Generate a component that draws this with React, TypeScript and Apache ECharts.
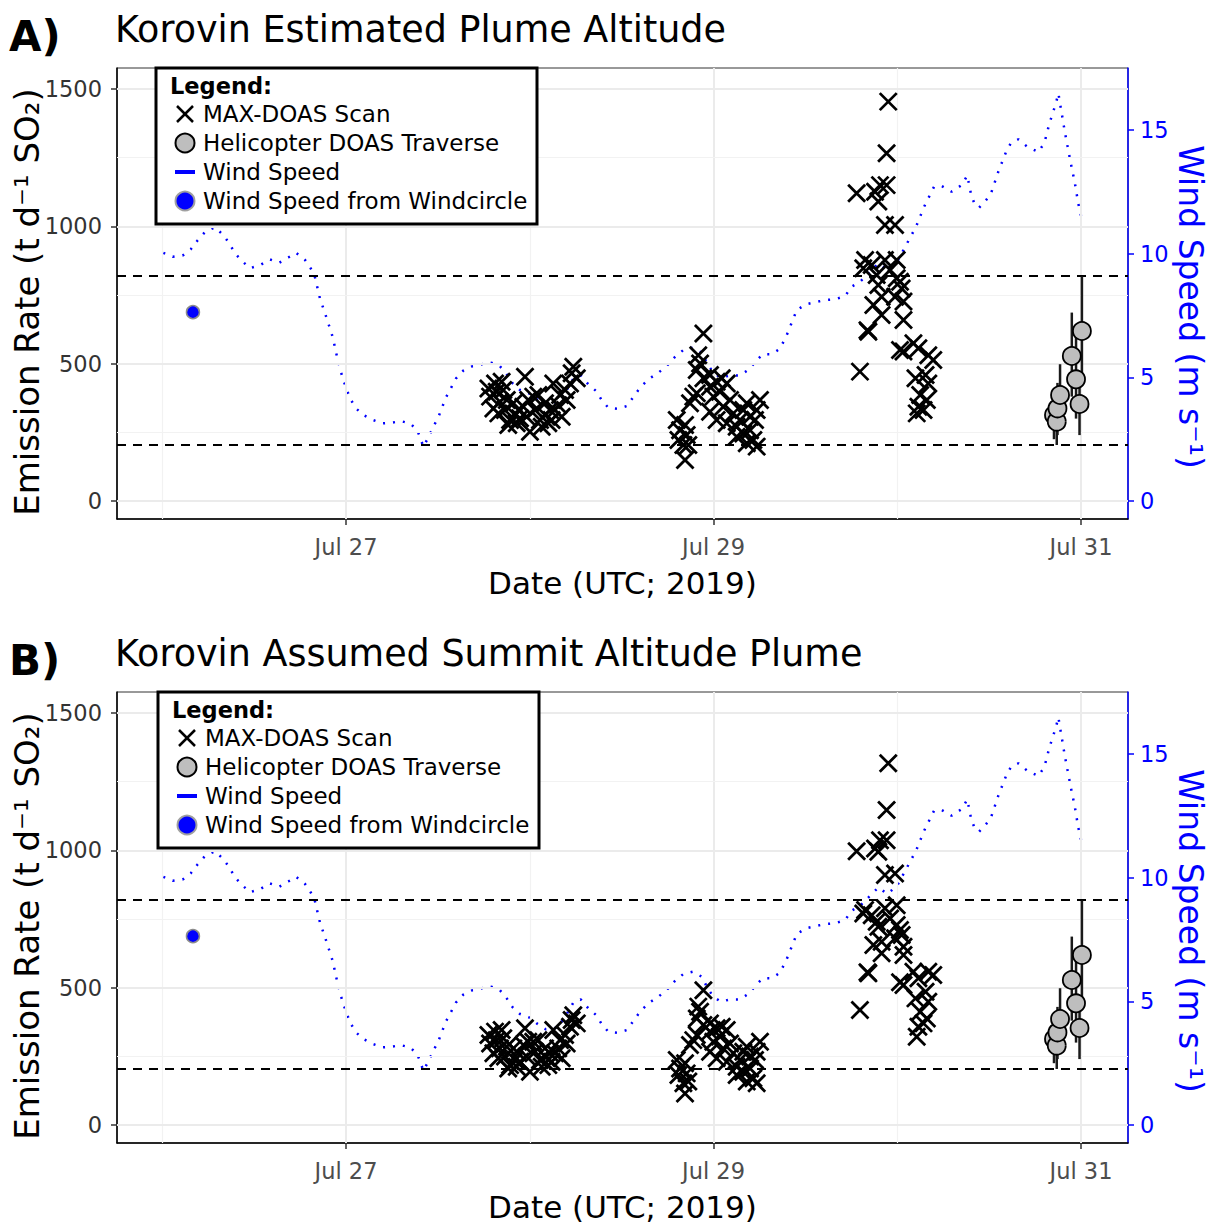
import React, { useEffect, useRef } from "react";
import * as echarts from "echarts";

// ---------- data ----------
// Time is expressed as fractional day of July 2019 (UTC), e.g. 27.5 = Jul 27 12:00.
const dayTicks = [27, 29, 31];
const dayMinorLines = [26, 28, 30];
const rateTicks = [0, 500, 1000, 1500];
const rateMinorLines = [250, 750, 1250];
const windTicks = [0, 5, 10, 15];
const dashedRates = [205, 819];

const windTime = [
  26.006, 26.057, 26.111, 26.155, 26.193, 26.234, 26.287, 26.332, 26.365, 26.396,
  26.438, 26.478, 26.532, 26.586, 26.637, 26.686, 26.728, 26.777, 26.808, 26.831,
  26.858, 26.895, 26.928, 26.953, 26.982, 27.022, 27.054, 27.094, 27.145, 27.2,
  27.25, 27.299, 27.348, 27.388, 27.421, 27.448, 27.475, 27.502, 27.544, 27.599,
  27.638, 27.689, 27.744, 27.793, 27.838, 27.875, 27.907, 27.947, 28.001, 28.038,
  28.088, 28.137, 28.183, 28.237, 28.277, 28.319, 28.361, 28.392, 28.428, 28.477,
  28.528, 28.564, 28.604, 28.651, 28.7, 28.745, 28.785, 28.836, 28.887, 28.936,
  28.97, 29.0, 29.039, 29.09, 29.144, 29.195, 29.231, 29.268, 29.317, 29.362,
  29.398, 29.453, 29.5, 29.56, 29.607, 29.661, 29.716, 29.752, 29.797, 29.861,
  29.897, 29.945, 29.997, 30.048, 30.102, 30.146, 30.2, 30.242, 30.296, 30.351,
  30.381, 30.4, 30.418, 30.445, 30.483, 30.508, 30.55, 30.592, 30.619, 30.659,
  30.708, 30.768, 30.801, 30.828, 30.863, 30.877, 30.89, 30.913, 30.944, 30.967,
  30.985, 31.009,
];
const windSpeed = [
  10.04, 9.88, 9.93, 10.18, 10.55, 10.89, 11.07, 10.76, 10.42, 10.02,
  9.68, 9.42, 9.54, 9.77, 9.64, 9.85, 10.04, 9.75, 9.41, 9.05,
  8.2, 7.39, 6.62, 5.77, 4.96, 4.15, 3.75, 3.48, 3.28, 3.14,
  3.17, 3.23, 3.14, 2.87, 2.2, 2.57, 3.0, 3.38, 4.19, 4.96,
  5.27, 5.46, 5.54, 5.59, 5.45, 5.12, 4.76, 4.49, 4.34, 4.11,
  3.87, 3.91, 4.25, 4.95, 5.08, 4.72, 4.45, 4.08, 3.77, 3.73,
  3.84, 4.21, 4.62, 4.95, 5.19, 5.46, 5.79, 6.11, 6.2, 6.0,
  5.5, 5.19, 4.99, 5.08, 5.08, 5.33, 5.66, 5.94, 5.94, 6.16,
  6.7, 7.72, 7.95, 8.05, 8.13, 8.16, 8.29, 8.67, 8.86, 9.34,
  9.61, 9.35, 9.65, 10.35, 11.09, 11.9, 12.71, 12.74, 12.51, 12.78,
  13.17, 12.47, 12.06, 11.86, 12.17, 12.39, 13.32, 14.12, 14.49, 14.63,
  14.33, 14.12, 14.49, 15.27, 16.08, 16.49, 15.9, 14.89, 13.68, 12.85,
  12.04, 11.25,
];

const windcircleTime = [26.167];
const windcircleSpeed = [7.64];

// MAX-DOAS scan times, shared by both altitude assumptions
const scanTime = [
  // Jul 27-28
  27.775, 27.811, 27.847, 27.784, 27.82, 27.856, 27.802, 27.838, 27.875, 27.829,
  27.865, 27.893, 27.92, 27.883, 27.929, 27.947, 27.974, 27.965, 27.992, 28.019,
  28.047, 28.001, 27.983, 28.029, 28.056, 28.083, 28.065, 28.101, 28.119, 28.137,
  28.155, 28.128, 28.165, 28.192, 28.201, 28.219, 28.228, 28.237, 28.256, 28.174,
  28.11, 28.083, 27.911, 27.938,
  // Jul 28-29
  28.945, 28.917, 28.909, 28.927, 28.945, 28.981, 28.89, 28.872, 28.909, 28.981,
  29.017, 29.045, 29.072, 28.999, 29.035, 28.981, 29.017, 29.053, 29.09, 29.108,
  29.072, 29.126, 29.144, 29.162, 29.181, 29.126, 29.162, 29.199, 29.217, 29.181,
  29.226, 29.235, 29.253, 29.199, 29.235, 28.8, 28.818, 28.845, 28.809, 28.854,
  28.836, 28.845, 28.863,
  // Jul 29-30
  29.951, 29.942, 29.779, 29.879, 29.906, 29.942, 29.897, 29.933, 29.988, 29.825,
  29.861, 29.933, 29.997, 29.815, 29.888, 29.961, 29.997, 30.015, 29.897, 30.024,
  29.915, 29.988, 30.034, 29.87, 29.915, 30.034, 29.843, 29.838, 30.088, 30.034,
  30.015, 30.115, 30.169, 30.196, 29.797, 30.099, 30.154, 30.169, 30.125, 30.161,
  30.115, 30.143, 30.106,
];
// Emission rate (t/d SO2), estimated plume altitude
const scanRateEstimated = [
  410, 428, 434, 380, 398, 404, 337, 361, 368, 319,
  331, 295, 313, 277, 283, 301, 452, 343, 368, 380,
  386, 252, 307, 331, 295, 313, 270, 283, 295, 331,
  349, 428, 386, 404, 368, 428, 465, 489, 447, 307,
  331, 356, 356, 331,
  610, 531, 477, 501, 447, 459, 380, 356, 392, 416,
  434, 447, 428, 380, 398, 325, 295, 343, 368, 319,
  283, 270, 295, 331, 356, 234, 246, 258, 222, 210,
  295, 331, 368, 307, 198, 295, 258, 277, 222, 240,
  204, 149, 204,
  1454, 1266, 1120, 1126, 1150, 1150, 1090, 1005, 1005, 877,
  859, 877, 877, 847, 823, 841, 811, 798, 786, 774,
  744, 744, 726, 714, 677, 659, 616, 622, 574, 544,
  550, 556, 531, 513, 471, 447, 459, 428, 386, 368,
  343, 331, 319,
];
// Emission rate (t/d SO2), plume assumed at summit altitude
const scanRateSummit = [
  328, 340, 346, 297, 309, 316, 261, 279, 285, 243,
  249, 218, 237, 206, 212, 230, 352, 291, 303, 303,
  309, 194, 249, 267, 237, 249, 212, 218, 230, 261,
  279, 346, 309, 328, 297, 358, 382, 400, 370, 243,
  261, 279, 279, 261,
  491, 431, 388, 412, 364, 370, 309, 291, 328, 340,
  352, 358, 346, 303, 322, 267, 243, 279, 297, 261,
  230, 212, 237, 267, 285, 182, 194, 206, 170, 158,
  237, 267, 303, 249, 152, 237, 206, 225, 182, 188,
  152, 115, 158,
  1317, 1147, 997, 1007, 1037, 1037, 995, 910, 916, 783,
  764, 789, 800, 770, 740, 752, 728, 710, 722, 692,
  667, 680, 649, 655, 625, 619, 552, 556, 558, 510,
  520, 534, 558, 546, 419, 461, 485, 449, 412, 388,
  358, 370, 321,
];

// Helicopter DOAS traverses with their uncertainty range
const heliTime = [30.853, 30.868, 30.872, 30.886, 30.95, 30.973, 30.992, 31.005];
const heliRate = [313, 289, 337, 386, 528, 443, 353, 619];
const heliLow = [225, 204, 240, 270, 380, 300, 240, 420];
const heliHigh = [400, 370, 430, 498, 686, 600, 470, 817];

const panelTitles = ["Korovin Estimated Plume Altitude", "Korovin Assumed Summit Altitude Plume"];
const panelLetters = ["A)", "B)"];
const panelRates = [scanRateEstimated, scanRateSummit];
const rateAxisTitle = "Emission Rate (t d\u207B\u00B9 SO\u2082)";
const windAxisTitle = "Wind Speed (m s\u207B\u00B9)";

// ---------- layout ----------
const FONT = "'DejaVu Sans', Verdana, sans-serif";
const X_MIN = 25.7537;
const X_MAX = 31.2558;
const RATE_MIN = -65.5;
const RATE_MAX = 1576.4;
const WIND_FACTOR = 90; // t/d per m/s on the secondary axis
const GRID_LEFT = 117;
const GRID_WIDTH = 1011;
const GRID_HEIGHT = 451;
const GRID_TOPS = [68, 692];
const PANEL_SHIFT = 624;
const BLUE = "#0000FF";

function legendGroup(x0: number, y0: number) {
  const tx = 47;
  const sx = 29;
  const rows = [46, 75, 104, 133];
  const Z = 100;
  const textStyle = (t: string, bold = false) => ({
    text: t,
    fontFamily: FONT,
    fontSize: bold ? 22.5 : 23,
    fontWeight: bold ? "bold" : "normal",
    fill: "#000",
    align: "left",
    verticalAlign: "middle",
  });
  return {
    type: "group",
    x: x0,
    y: y0,
    z: Z,
    children: [
      { type: "rect", z: Z, shape: { x: 0, y: 0, width: 381, height: 156 }, style: { fill: "#fff", stroke: "#000", lineWidth: 3 } },
      { type: "text", z: Z + 1, x: 14, y: 18, style: textStyle("Legend:", true) },
      { type: "line", z: Z + 1, shape: { x1: sx - 8, y1: rows[0] - 8, x2: sx + 8, y2: rows[0] + 8 }, style: { stroke: "#000", lineWidth: 2.5 } },
      { type: "line", z: Z + 1, shape: { x1: sx + 8, y1: rows[0] - 8, x2: sx - 8, y2: rows[0] + 8 }, style: { stroke: "#000", lineWidth: 2.5 } },
      { type: "text", z: Z + 1, x: tx, y: rows[0], style: textStyle("MAX-DOAS Scan") },
      { type: "circle", z: Z + 1, shape: { cx: sx, cy: rows[1], r: 9.5 }, style: { fill: "#BEBEBE", stroke: "#000", lineWidth: 2 } },
      { type: "text", z: Z + 1, x: tx, y: rows[1], style: textStyle("Helicopter DOAS Traverse") },
      { type: "line", z: Z + 1, shape: { x1: sx - 10, y1: rows[2], x2: sx + 10, y2: rows[2] }, style: { stroke: BLUE, lineWidth: 4 } },
      { type: "text", z: Z + 1, x: tx, y: rows[2], style: textStyle("Wind Speed") },
      { type: "circle", z: Z + 1, shape: { cx: sx, cy: rows[3], r: 9.5 }, style: { fill: BLUE, stroke: "#A0A0A0", lineWidth: 2 } },
      { type: "text", z: Z + 1, x: tx, y: rows[3], style: textStyle("Wind Speed from Windcircle") },
    ],
  };
}

function buildOption() {
  const grid: any[] = [];
  const xAxis: any[] = [];
  const yAxis: any[] = [];
  const series: any[] = [];
  const graphic: any[] = [];

  [0, 1].forEach((p) => {
    grid.push({
      left: GRID_LEFT,
      top: GRID_TOPS[p],
      width: GRID_WIDTH,
      height: GRID_HEIGHT,
      containLabel: false,
      outerBoundsMode: "none",
      show: true,
      borderColor: "#333",
      borderWidth: 1,
      backgroundColor: "transparent",
    });
    xAxis.push({
      type: "value",
      gridIndex: p,
      min: X_MIN,
      max: X_MAX,
      axisLine: { show: true, onZero: false, lineStyle: { color: "#000", width: 1.5 } },
      axisTick: { show: true, length: 6, customValues: dayTicks, lineStyle: { color: "#333", width: 1.5 } },
      axisLabel: {
        customValues: dayTicks,
        formatter: (v: number) => `Jul ${Math.round(v)}`,
        fontSize: 22.5,
        color: "#4D4D4D",
        fontFamily: FONT,
        margin: 16,
      },
      splitLine: { show: false },
      name: "Date (UTC; 2019)",
      nameLocation: "middle",
      nameGap: 48,
      nameTextStyle: { fontSize: 31, color: "#000", fontFamily: FONT },
    });
    yAxis.push({
      type: "value",
      gridIndex: p,
      position: "left",
      min: RATE_MIN,
      max: RATE_MAX,
      axisLine: { show: true, onZero: false, lineStyle: { color: "#000", width: 1.5 } },
      axisTick: { show: true, length: 6, customValues: rateTicks, lineStyle: { color: "#333", width: 1.5 } },
      axisLabel: {
        customValues: rateTicks,
        formatter: (v: number) => String(Math.round(v)),
        fontSize: 22.5,
        color: "#333",
        fontFamily: FONT,
        margin: 15,
      },
      splitLine: { show: false },
    });
    yAxis.push({
      type: "value",
      gridIndex: p,
      position: "right",
      min: RATE_MIN / WIND_FACTOR,
      max: RATE_MAX / WIND_FACTOR,
      axisLine: { show: true, onZero: false, lineStyle: { color: BLUE, width: 1.5 } },
      axisTick: { show: true, length: 6, customValues: windTicks, lineStyle: { color: BLUE, width: 1.5 } },
      axisLabel: {
        customValues: windTicks,
        formatter: (v: number) => String(Math.round(v)),
        fontSize: 22.5,
        color: BLUE,
        fontFamily: FONT,
        margin: 12,
      },
      splitLine: { show: false },
    });

    const rateIdx = 2 * p;
    const windIdx = 2 * p + 1;

    // panel grid lines
    const gridLines: any[] = [];
    dayTicks.forEach((d) => gridLines.push({ xAxis: d, lineStyle: { color: "#EBEBEB", width: 2, type: "solid" } }));
    dayMinorLines.forEach((d) => gridLines.push({ xAxis: d, lineStyle: { color: "#F2F2F2", width: 1.2, type: "solid" } }));
    rateTicks.forEach((r) => gridLines.push({ yAxis: r, lineStyle: { color: "#EBEBEB", width: 2, type: "solid" } }));
    rateMinorLines.forEach((r) => gridLines.push({ yAxis: r, lineStyle: { color: "#F2F2F2", width: 1.2, type: "solid" } }));
    series.push({
      type: "scatter",
      xAxisIndex: p,
      yAxisIndex: rateIdx,
      data: [],
      z: 1,
      silent: true,
      markLine: { silent: true, symbol: ["none", "none"], label: { show: false }, animation: false, data: gridLines },
    });
    // reference levels
    series.push({
      type: "scatter",
      xAxisIndex: p,
      yAxisIndex: rateIdx,
      data: [],
      z: 2,
      silent: true,
      markLine: {
        silent: true,
        symbol: ["none", "none"],
        label: { show: false },
        animation: false,
        data: dashedRates.map((r) => ({ yAxis: r })),
        lineStyle: { color: "#000", width: 2, type: [9, 7] },
      },
    });
    // wind speed
    series.push({
      type: "line",
      xAxisIndex: p,
      yAxisIndex: windIdx,
      data: windTime.map((t, i) => [t, windSpeed[i]]),
      showSymbol: false,
      symbol: "none",
      z: 3,
      lineStyle: { color: BLUE, width: 2.5, type: [2, 8] },
    });
    series.push({
      type: "scatter",
      xAxisIndex: p,
      yAxisIndex: windIdx,
      data: windcircleTime.map((t, i) => [t, windcircleSpeed[i]]),
      symbolSize: 13,
      z: 4,
      itemStyle: { color: BLUE, borderColor: "#8C8C8C", borderWidth: 1.5, opacity: 1 },
    });
    // MAX-DOAS scans
    series.push({
      type: "scatter",
      xAxisIndex: p,
      yAxisIndex: rateIdx,
      data: scanTime.map((t, i) => [t, panelRates[p][i]]),
      symbol: "path://M0,0L10,10M10,0L0,10",
      symbolSize: 17,
      z: 5,
      itemStyle: { color: "rgba(0,0,0,0)", borderColor: "#000", borderWidth: 2.8, opacity: 1 },
    });
    // helicopter error bars
    series.push({
      type: "custom",
      xAxisIndex: p,
      yAxisIndex: rateIdx,
      data: heliTime.map((t, i) => [t, heliLow[i], heliHigh[i]]),
      encode: { x: 0, y: [1, 2] },
      z: 6,
      renderItem: (params: any, api: any) => {
        const a = api.coord([api.value(0), api.value(1)]);
        const b = api.coord([api.value(0), api.value(2)]);
        return {
          type: "line",
          shape: { x1: a[0], y1: a[1], x2: b[0], y2: b[1] },
          style: { stroke: "#1A1A1A", lineWidth: 2.5 },
        };
      },
    });
    series.push({
      type: "scatter",
      xAxisIndex: p,
      yAxisIndex: rateIdx,
      data: heliTime.map((t, i) => [t, heliRate[i]]),
      symbolSize: 18,
      z: 7,
      itemStyle: { color: "#BEBEBE", borderColor: "#000", borderWidth: 1.8, opacity: 1 },
    });

    const offY = p * PANEL_SHIFT;
    graphic.push({
      type: "text",
      x: 9,
      y: 36 + offY,
      z: 50,
      style: { text: panelLetters[p], fontFamily: FONT, fontSize: 42, fontWeight: "bold", fill: "#000", align: "left", verticalAlign: "middle" },
    });
    graphic.push({
      type: "text",
      x: 115,
      y: 29 + offY,
      z: 50,
      style: { text: panelTitles[p], fontFamily: FONT, fontSize: 36.5, fill: "#000", align: "left", verticalAlign: "middle" },
    });
    // axis titles of the two vertical scales
    graphic.push({
      type: "text",
      x: 27,
      y: 302 + offY,
      rotation: Math.PI / 2,
      z: 50,
      style: { text: rateAxisTitle, fontFamily: FONT, fontSize: 34, fill: "#000", align: "center", verticalAlign: "middle" },
    });
    graphic.push({
      type: "text",
      x: 1190,
      y: 307 + offY,
      rotation: -Math.PI / 2,
      z: 50,
      style: { text: windAxisTitle, fontFamily: FONT, fontSize: 33, fill: BLUE, align: "center", verticalAlign: "middle" },
    });
    graphic.push(legendGroup(p === 0 ? 156 : 158, GRID_TOPS[p]));
  });

  return {
    animation: false,
    backgroundColor: "#fff",
    textStyle: { fontFamily: FONT },
    grid,
    xAxis,
    yAxis,
    series,
    graphic,
  };
}

export default function App() {
  const ref = useRef<HTMLDivElement>(null);
  useEffect(() => {
    if (!ref.current) return;
    const chart = echarts.init(ref.current, undefined, { renderer: "svg" });
    chart.setOption(buildOption() as any);
    return () => chart.dispose();
  }, []);
  return (
    <div
      ref={ref}
      style={{ position: "absolute", left: 0, top: 0, width: 1208, height: 1226, background: "#fff" }}
    />
  );
}
